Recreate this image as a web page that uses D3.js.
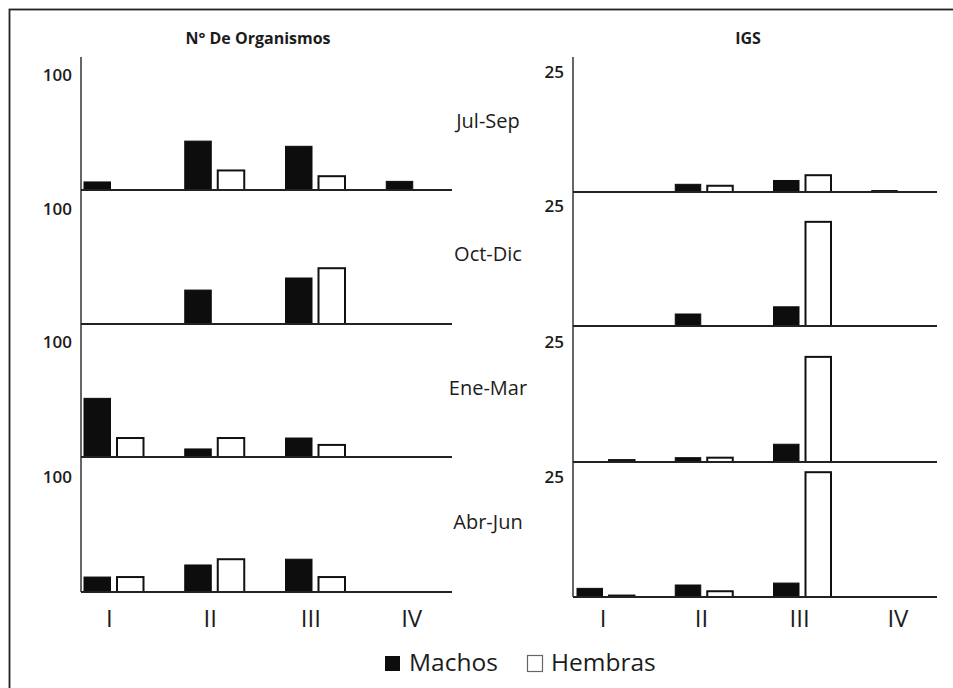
<!DOCTYPE html>
<html>
<head>
<meta charset="utf-8">
<script src="https://cdn.jsdelivr.net/npm/d3@7"></script>
<style>
  body { margin: 0; background: #fff; }
  text { font-family: "Open Sans", sans-serif; fill: #1c1c1c; }
</style>
</head>
<body>
<svg id="chart" width="953" height="688"></svg>
<script>
////// data //////
var categories = ["I", "II", "III", "IV"];
var seasons = ["Jul-Sep", "Oct-Dic", "Ene-Mar", "Abr-Jun"];

// N° de organismos (one row per season, one value per category)
var orgMachos  = [[7, 42.5, 38, 7.5], [0, 29.5, 40, 0], [51, 7, 16.5, 0], [13, 23.5, 28.5, 0]];
var orgHembras = [[0, 17, 12, 0], [0, 0, 48.5, 0], [16.5, 16.5, 10.5, 0], [13, 28.5, 13, 0]];

// IGS
var igsMachos  = [[0, 1.6, 2.4, 0.3], [0, 2.5, 4, 0], [0, 0.9, 3.7, 0], [1.8, 2.5, 2.9, 0]];
var igsHembras = [[0, 1.3, 3.5, 0], [0, 0, 21.7, 0], [0.4, 0.9, 21.9, 0], [0.3, 1.2, 26, 0]];

var organismTick = 100, igsTick = 25;
var legendLabels = ["Machos", "Hembras"];
//////////////////////////////////////

var svg = d3.select("#chart");

// outer frame (runs off the right / bottom edge like the scan)
svg.append("rect")
  .attr("x", 9.5).attr("y", 9.5)
  .attr("width", 980).attr("height", 700)
  .attr("fill", "none").attr("stroke", "#222").attr("stroke-width", 1.8);

var panels = [
  { title: "N° De Organismos", titleX: 258, axisX: 81, lineEnd: 452,
    baselines: [190, 324, 457, 592], top: 57, bandRange: [84, 487],
    barW: 26.5, gap: 33, tick: organismTick, tickPx: 115,
    machos: orgMachos, hembras: orgHembras, labelShift: -25, labelPad: 18 },
  { title: "IGS", titleX: 748, axisX: 573, lineEnd: 937,
    baselines: [192, 326, 462, 597], top: 57, bandRange: [577, 970],
    barW: 25.5, gap: 32, tick: igsTick, tickPx: 120,
    machos: igsMachos, hembras: igsHembras, labelShift: -23, labelPad: 13 }
];

panels.forEach(function(p) {
  var g = svg.append("g");

  g.append("text")
    .attr("x", p.titleX).attr("y", 44)
    .attr("text-anchor", "middle")
    .attr("font-size", "16px").attr("font-weight", "bold")
    .text(p.title);

  var x = d3.scaleBand().domain(categories).range(p.bandRange);

  // vertical axis line across all four rows
  g.append("line")
    .attr("x1", p.axisX).attr("x2", p.axisX)
    .attr("y1", p.top).attr("y2", p.baselines[3])
    .attr("stroke", "#333").attr("stroke-width", 1.5);

  p.baselines.forEach(function(base, row) {
    var y = d3.scaleLinear().domain([0, p.tick]).range([base, base - p.tickPx]);

    var yAxis = d3.axisLeft(y).tickValues([p.tick]).tickSize(0).tickPadding(9);
    var ya = g.append("g")
      .attr("transform", "translate(" + p.axisX + ",0)")
      .call(yAxis);
    ya.select(".domain").remove();
    ya.selectAll("text").attr("font-size", "17px").attr("fill", "#111")
      .attr("font-weight", 600)
      .style("font-family", "'Open Sans', sans-serif");

    categories.forEach(function(c, i) {
      var vm = p.machos[row][i], vh = p.hembras[row][i];
      if (vm > 0) {
        g.append("rect")
          .attr("x", x(c)).attr("y", y(vm))
          .attr("width", p.barW).attr("height", y(0) - y(vm))
          .attr("fill", "#0d0d0d").attr("stroke", "#0d0d0d").attr("stroke-width", 1);
      }
      if (vh > 0) {
        g.append("rect")
          .attr("x", x(c) + p.gap).attr("y", y(vh))
          .attr("width", p.barW).attr("height", y(0) - y(vh))
          .attr("fill", "#fff").attr("stroke", "#111").attr("stroke-width", 2);
      }
    });

    // row baseline
    g.append("line")
      .attr("x1", p.axisX).attr("x2", p.lineEnd)
      .attr("y1", base).attr("y2", base)
      .attr("stroke", "#222").attr("stroke-width", 2);
  });

  // roman numeral labels under the last row
  var xAxis = d3.axisBottom(x).tickSize(0).tickPadding(p.labelPad);
  var xa = g.append("g")
    .attr("transform", "translate(" + p.labelShift + "," + p.baselines[3] + ")")
    .call(xAxis);
  xa.select(".domain").remove();
  xa.selectAll("text").attr("font-size", "24px").attr("fill", "#1c1c1c")
    .style("font-family", "'Open Sans', sans-serif");
});

// season names between the two columns
seasons.forEach(function(s, row) {
  var top = row === 0 ? panels[0].top : panels[0].baselines[row - 1];
  var mid = (top + panels[0].baselines[row]) / 2;
  svg.append("text")
    .attr("x", 488).attr("y", mid - 3)
    .attr("dy", "0.35em")
    .attr("text-anchor", "middle")
    .attr("font-size", "20px")
    .text(s);
});

// legend
var legend = svg.append("g").attr("transform", "translate(385,655)");
legend.append("rect").attr("x", 0).attr("y", 1).attr("width", 15).attr("height", 15)
  .attr("fill", "#0d0d0d");
legend.append("text").attr("x", 24).attr("y", 16).attr("font-size", "24.5px").text(legendLabels[0]);
legend.append("rect").attr("x", 142.5).attr("y", 0.5).attr("width", 15).attr("height", 16)
  .attr("fill", "#fff").attr("stroke", "#666").attr("stroke-width", 1.2);
legend.append("text").attr("x", 166).attr("y", 16).attr("font-size", "24.5px").text(legendLabels[1]);
</script>
</body>
</html>
